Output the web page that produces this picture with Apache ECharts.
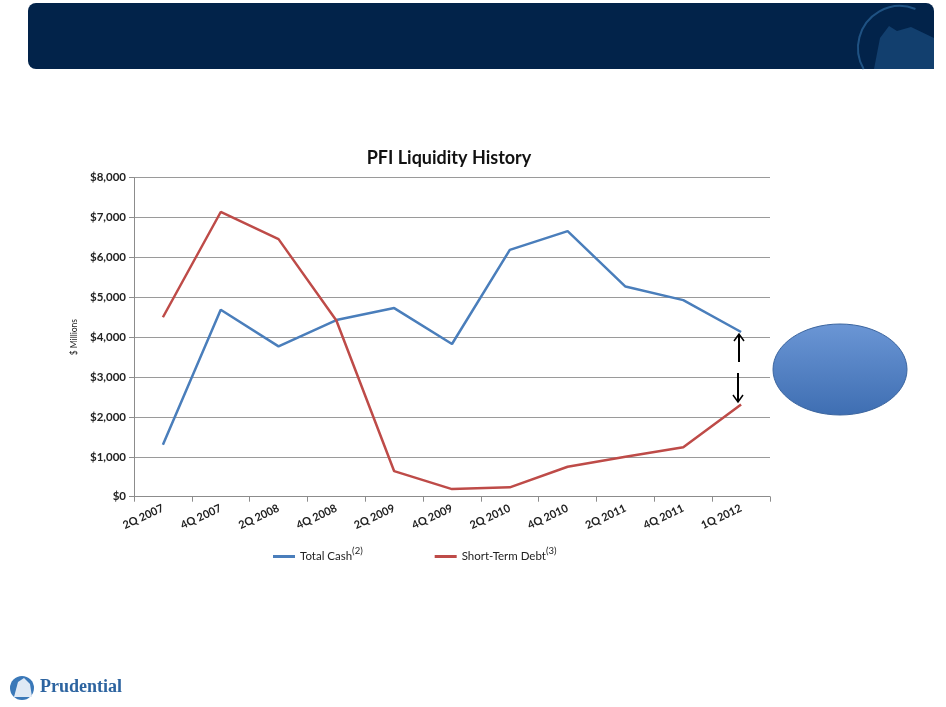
<!DOCTYPE html>
<html>
<head>
<meta charset="utf-8">
<script src="https://cdn.jsdelivr.net/npm/echarts@6/dist/echarts.min.js"></script>
<style>
  html, body { margin: 0; padding: 0; background: #fff; }
  #chart { width: 946px; height: 707px; }
</style>
</head>
<body>
<div id="chart"></div>
<script>
const quarters = ['2Q 2007', '4Q 2007', '2Q 2008', '4Q 2008', '2Q 2009', '4Q 2009',
  '2Q 2010', '4Q 2010', '2Q 2011', '4Q 2011', '1Q 2012'];
const totalCash = [1300, 4690, 3770, 4430, 4730, 3830, 6190, 6660, 5270, 4930, 4130];
const shortTermDebt = [4500, 7140, 6460, 4420, 640, 190, 235, 750, 1000, 1240, 2310];
const yTicks = [0, 1000, 2000, 3000, 4000, 5000, 6000, 7000, 8000];

const chart = echarts.init(document.getElementById('chart'));
const font = 'Lato, "Open Sans", sans-serif';

chart.setOption({
  animation: false,
  backgroundColor: '#fff',
  title: {
    text: 'PFI Liquidity History',
    left: 444,
    top: 144,
    textAlign: 'center',
    textStyle: { fontFamily: font, fontSize: 18, fontWeight: 'bold', color: '#111' }
  },
  grid: { left: 134, right: 176, top: 177.7, bottom: 210.3 },
  legend: {
    left: 268,
    top: 541,
    itemGap: 72,
    itemWidth: 22,
    itemHeight: 3,
    icon: 'rect',
    data: ['Total Cash', 'Short-Term Debt'],
    formatter: name => name + (name === 'Total Cash' ? '{sup|(2)}' : '{sup|(3)}'),
    textStyle: {
      fontFamily: font, fontSize: 11.5, color: '#222',
      rich: { sup: { fontFamily: font, fontSize: 9.5, color: '#222', padding: [0, 0, 11, 0] } }
    }
  },
  xAxis: {
    type: 'category',
    data: quarters,
    boundaryGap: true,
    axisLine: { lineStyle: { color: '#8c8c8c', width: 1 } },
    axisTick: { show: true, length: 5, lineStyle: { color: '#8c8c8c' } },
    axisLabel: {
      rotate: 25, interval: 0, margin: 11,
      fontFamily: font, fontSize: 11, fontWeight: 'bold', color: '#222'
    }
  },
  yAxis: {
    type: 'value',
    min: yTicks[0],
    max: yTicks[yTicks.length - 1],
    interval: 1000,
    name: '$ Millions',
    nameLocation: 'middle',
    nameGap: 48,
    nameRotate: 90,
    nameTextStyle: { fontFamily: font, fontSize: 8.5, color: '#222' },
    axisLine: { show: true, lineStyle: { color: '#8c8c8c', width: 1 } },
    axisTick: { show: true, length: 5, lineStyle: { color: '#8c8c8c' } },
    splitLine: { lineStyle: { color: '#9a9a9a', width: 1 } },
    axisLabel: {
      margin: 8,
      fontFamily: font, fontSize: 11.5, fontWeight: 'bold', color: '#222',
      formatter: v => '$' + v.toLocaleString('en-US')
    }
  },
  series: [
    {
      name: 'Total Cash', type: 'line', data: totalCash,
      showSymbol: false, symbol: 'none',
      lineStyle: { color: '#4a7ebb', width: 2.5 },
      itemStyle: { color: '#4a7ebb' }
    },
    {
      name: 'Short-Term Debt', type: 'line', data: shortTermDebt,
      showSymbol: false, symbol: 'none',
      lineStyle: { color: '#be4b48', width: 2.5 },
      itemStyle: { color: '#be4b48' }
    }
  ],
  graphic: [
    // header banner
    {
      type: 'rect', shape: { x: 28, y: 3, width: 906, height: 66, r: 8 },
      style: { fill: '#02234a' }, z: 1
    },
    {
      type: 'polygon',
      shape: { points: [[874, 69], [880, 38], [889, 26], [897, 31], [911, 27], [934, 38], [934, 69]] },
      style: { fill: '#123f6e' }, z: 2
    },
    {
      type: 'arc', shape: { cx: 900, cy: 48, r: 42, startAngle: Math.PI * 5 / 6, endAngle: Math.PI * 1.62 },
      style: { stroke: '#1f5283', lineWidth: 2, fill: null }, z: 2
    },
    // callout ellipse
    {
      type: 'ellipse', shape: { cx: 840, cy: 369.5, rx: 67, ry: 45.5 },
      style: {
        fill: new echarts.graphic.LinearGradient(0, 0, 0, 1, [
          { offset: 0, color: '#6b96d5' }, { offset: 1, color: '#3e6eb2' }
        ]),
        stroke: '#3b659f', lineWidth: 1
      }, z: 5
    },
    // arrows
    {
      type: 'line', shape: { x1: 739, y1: 362, x2: 739, y2: 335 },
      style: { stroke: '#000', lineWidth: 2 }, z: 6
    },
    {
      type: 'polyline', shape: { points: [[734, 341], [739, 334], [744, 341]] },
      style: { stroke: '#000', lineWidth: 1.5, fill: null }, z: 6
    },
    {
      type: 'line', shape: { x1: 738, y1: 373, x2: 738, y2: 401 },
      style: { stroke: '#000', lineWidth: 2 }, z: 6
    },
    {
      type: 'polyline', shape: { points: [[733, 395], [738, 402], [743, 395]] },
      style: { stroke: '#000', lineWidth: 1.5, fill: null }, z: 6
    },
    // bottom logo
    {
      type: 'circle', shape: { cx: 22, cy: 688, r: 12 },
      style: { fill: '#3a78b8' }, z: 5
    },
    {
      type: 'polygon', shape: { points: [[14, 697], [18, 682], [24, 678], [30, 684], [32, 697]] },
      style: { fill: '#dfe9f5' }, z: 6
    },
    {
      type: 'text', left: 40, top: 678,
      style: { text: 'Prudential', font: 'bold 18px "Liberation Serif", serif', fill: '#2d64a0' }, z: 5
    }
  ]
});
</script>
</body>
</html>
